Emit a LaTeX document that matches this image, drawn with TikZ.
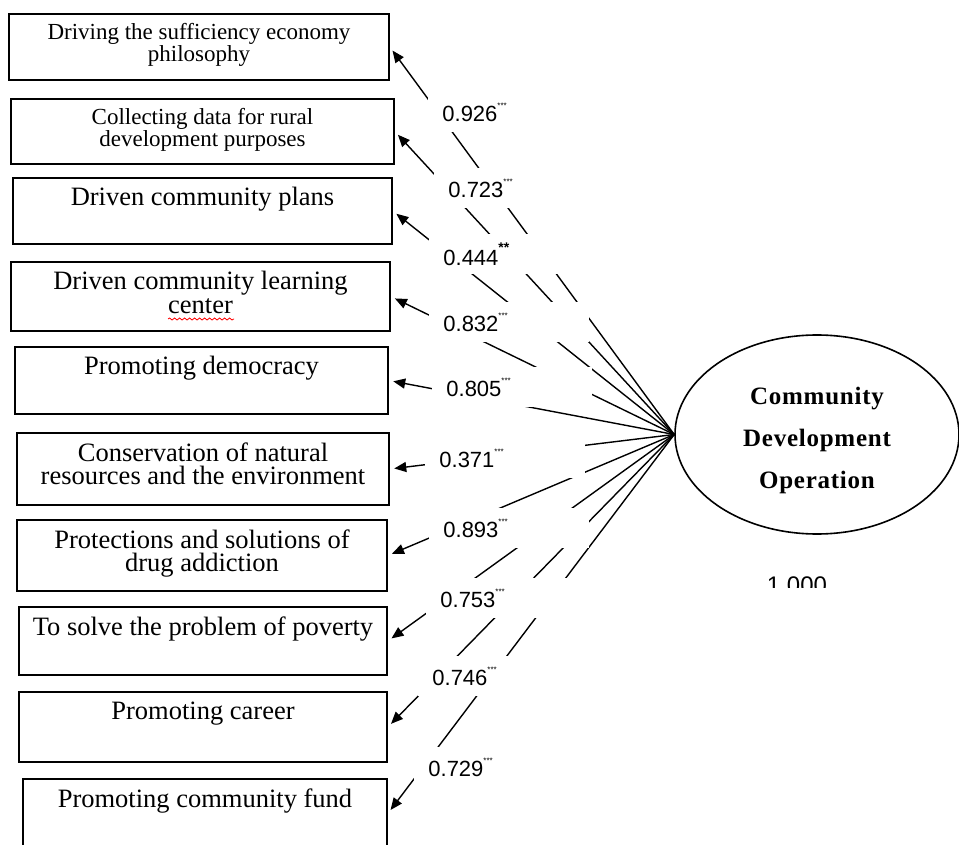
\documentclass[tikz,border=0pt]{standalone}
\usepackage{fontspec}
\setmainfont{Liberation Serif}
\setsansfont{Liberation Sans}
\usetikzlibrary{arrows.meta,fit,shapes.geometric,decorations.pathmorphing}

\newcommand{\stars}[2][4]{\raisebox{1.1ex}{\fontsize{#1}{#1}\selectfont #2}}

\begin{document}
\begin{tikzpicture}[x=0.5pt, y=-0.5pt,
    factor/.style={draw, line width=0.9pt, inner sep=0pt},
    ftext/.style={anchor=north, yshift=-5pt, inner sep=0pt, align=center,
                  font=\fontsize{13.25}{11.6}\selectfont},
    fsmall/.style={ftext, font=\fontsize{11.5}{11}\selectfont},
    latent/.style={draw, ellipse, line width=0.8pt, inner sep=0pt,
                   minimum width=142pt, minimum height=99.5pt},
    ltext/.style={anchor=center, yshift=-3pt, inner sep=0pt, align=center,
                  font=\fontsize{12.5}{21}\selectfont\bfseries\addfontfeature{LetterSpace=3}},
    loading/.style={line width=0.7pt, -{Triangle[length=6pt,width=5pt]}, shorten >=2.2pt},
    coef/.style={fill=white, anchor=west, inner xsep=7pt, inner ysep=0pt,
                 minimum height=20pt, text width=66pt, align=left,
                 font=\sffamily\fontsize{11}{12}\selectfont}]

  \useasboundingbox (0,0) rectangle (959,845);
  \fill[white] (0,0) rectangle (959,845);

  % --- indicators, top to bottom
  \node[factor, fit={(9,14) (389,80)},
        label={[fsmall]north:Driving the sufficiency economy\\philosophy}] (sep) {};
  \node[factor, fit={(11,99) (394,164)},
        label={[fsmall]north:Collecting data for rural\\development purposes}] (data) {};
  \node[factor, fit={(13,178) (392,244)},
        label={[ftext]north:Driven community plans}] (plans) {};
  \node[factor, fit={(11,262) (390,331)},
        label={[ftext]north:Driven community learning\\center}] (learn) {};
  \node[factor, fit={(15,347) (388,414)},
        label={[ftext]north:Promoting democracy}] (demo) {};
  \node[factor, fit={(17,433) (389,505)},
        label={[ftext]north:Conservation of natural\\resources and the environment}] (env) {};
  \node[factor, fit={(17,520) (387,591)},
        label={[ftext]north:Protections and solutions of\\drug addiction}] (drug) {};
  \node[factor, fit={(19,607) (387,675)},
        label={[ftext]north:To solve the problem of poverty}] (pov) {};
  \node[factor, fit={(19,692) (387,762)},
        label={[ftext]north:Promoting career}] (career) {};
  \node[factor, fit={(23,779) (387,848)},
        label={[ftext]north:Promoting community fund}] (fund) {};

  \draw[red, line width=0.4pt, decorate,
        decoration={snake, amplitude=0.5pt, segment length=2.5pt}] (168,319) -- (234,319);

  % --- the latent variable
  \node[latent, label={[ltext]center:Community\\Development\\Operation}] (cdo) at (817,434.5) {};

  % --- loadings
  \draw[loading] (cdo.west) -- (sep.east);
  \draw[loading] (cdo.west) -- (data.east);
  \draw[loading] (cdo.west) -- (plans.east);
  \draw[loading] (cdo.west) -- (learn.east);
  \draw[loading] (cdo.west) -- (demo.east);
  \draw[loading] (cdo.west) -- (env.east);
  \draw[loading] (cdo.west) -- (drug.east);
  \draw[loading] (cdo.west) -- (pov.east);
  \draw[loading] (cdo.west) -- (career.east);
  \draw[loading] (cdo.west) -- (fund.east);

  % --- coefficients, drawn over the lines
  \node[coef] (c1) at (428,112) {0.926\stars{***}};
  \node[coef] (c2) at (434,188) {0.723\stars{***}};
  \node[coef] (c3) at (429,254) {0.444\stars[7]{\bfseries **}};
  \node[coef] (c4) at (429,322) {0.832\stars{***}};
  \node[coef] (c5) at (432,387) {0.805\stars{***}};
  \node[coef] (c6) at (425,458) {0.371\stars{***}};
  \node[coef] (c7) at (429,528) {0.893\stars{***}};
  \node[coef] (c8) at (426,598) {0.753\stars{***}};
  \node[coef] (c9) at (418,676) {0.746\stars{***}};
  \node[coef] (c10) at (414,767) {0.729\stars{***}};

  \begin{scope}
    \clip (740,560) rectangle (860,587);
    \node[font=\sffamily\fontsize{12}{12}\selectfont, inner sep=0pt] (fix) at (797,585.5) {1.000};
  \end{scope}
\end{tikzpicture}
\end{document}
